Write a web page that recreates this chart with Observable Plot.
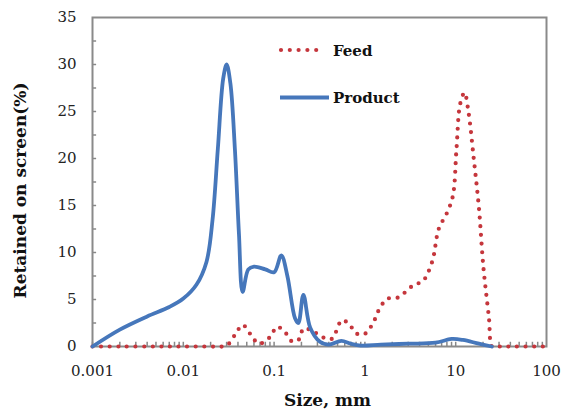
<!DOCTYPE html>
<html>
<head>
<meta charset="utf-8">
<script src="https://cdn.jsdelivr.net/npm/d3@7"></script>
<script src="https://cdn.jsdelivr.net/npm/@observablehq/plot@0.6"></script>
<style>
  html, body { margin: 0; padding: 0; background: #fff; }
  #wrap { position: relative; width: 563px; height: 412px; }
  #legend { position: absolute; left: 0; top: 0; pointer-events: none; }
</style>
</head>
<body>
<div id="wrap"></div>
<script>
// ---- data ----
const feedSize = [0.001, 0.002, 0.005, 0.01, 0.02, 0.027, 0.031, 0.038, 0.045, 0.055, 0.068, 0.09, 0.108, 0.135, 0.16, 0.19, 0.21, 0.26, 0.34, 0.43, 0.56, 0.68, 0.8, 0.98, 1.2, 1.5, 1.8, 2.3, 2.8, 3.5, 4.3, 5.5, 6.5, 8, 9.3, 10.2, 11.2, 12.5, 13.8, 15.8, 18, 20.2, 23.2, 25, 27, 35, 50, 100];
const feedPct  = [0, 0, 0, 0, 0, 0, 0.2, 1.4, 2.3, 1.3, 0.3, 1.0, 2.1, 1.4, 0.5, 0.8, 1.9, 1.7, 1.0, 0.8, 2.8, 2.3, 1.4, 1.3, 2.3, 4.3, 5.1, 5.2, 5.8, 6.6, 6.9, 9.0, 12.5, 14.2, 16, 21, 25.8, 27, 25, 20, 14.8, 8.4, 3.1, 0, 0, 0, 0, 0];

const productSize = [0.001, 0.002, 0.004, 0.007, 0.01, 0.014, 0.018, 0.021, 0.024, 0.0275, 0.030, 0.033, 0.037, 0.041, 0.045, 0.052, 0.06, 0.08, 0.1, 0.12, 0.14, 0.17, 0.185, 0.21, 0.25, 0.32, 0.4, 0.55, 0.7, 0.9, 1.5, 3, 6, 9, 12, 18, 25];
const productPct  = [0, 1.8, 3.2, 4.2, 5.1, 6.6, 9.0, 13.5, 21, 28.5, 30, 28, 21, 12, 5.8, 8.2, 8.5, 8.2, 7.9, 9.7, 7.5, 3.0, 2.5, 5.5, 2.0, 0.5, 0.2, 0.6, 0.3, 0.1, 0.2, 0.3, 0.4, 0.8, 0.7, 0.3, 0];

const xTicks = [0.001, 0.01, 0.1, 1, 10, 100];
const xTickLabels = ["0.001", "0.01", "0.1", "1", "10", "100"];
const yTicks = [0, 5, 10, 15, 20, 25, 30, 35];
const seriesNames = ["Feed", "Product"];
const seriesColors = ["#c5363c", "#4677bb"];

// minor tick positions
const minorX = [];
for (const d of [0.001, 0.01, 0.1, 1, 10]) for (let k = 1; k <= 9; k++) minorX.push(d * k);
const minorY = [];
for (let v = 2.5; v < 35; v += 2.5) minorY.push(v);

const feed = feedSize.map((s, i) => ({size: s, pct: feedPct[i]}));
const product = productSize.map((s, i) => ({size: s, pct: productPct[i]}));

const chart = Plot.plot({
  width: 563,
  height: 412,
  marginLeft: 92,
  marginRight: 17,
  marginTop: 17,
  marginBottom: 66,
  style: {fontFamily: "DejaVu Serif", fontSize: "15px", color: "#222", background: "#fff"},
  x: {type: "log", domain: [0.001, 100]},
  y: {domain: [0, 35]},
  marks: [
    Plot.axisX({ticks: xTicks, tickFormat: (d) => xTickLabels[xTicks.indexOf(d)], tickSize: 0, tickPadding: 19, label: null}),
    Plot.axisY({ticks: yTicks, tickSize: 0, tickPadding: 16, label: null}),
    Plot.ruleX(minorX, {x: (d) => d, y1: 0, y2: 0.45, stroke: "#888", strokeWidth: 1.5}),
    Plot.ruleY(minorY, {y: (d) => d, x1: 0.001, x2: 0.00111, stroke: "#888", strokeWidth: 1.5}),
    Plot.frame({stroke: "#8a8a8a", strokeWidth: 2}),
    Plot.line(feed, {x: "size", y: "pct", curve: "catmull-rom", stroke: seriesColors[0], strokeWidth: 4.2, strokeLinecap: "round", strokeDasharray: "0,8.6"}),
    Plot.line(product, {x: "size", y: "pct", curve: "catmull-rom", stroke: seriesColors[1], strokeWidth: 3.8}),
    Plot.text(["Retained on screen(%)"], {frameAnchor: "left", rotate: -90, dx: -72, dy: 8.5, lineAnchor: "middle", textAnchor: "middle", fontWeight: "bold", fontSize: 17, fill: "#111"}),
    Plot.text(["Size, mm"], {frameAnchor: "bottom", dx: 8, dy: 54, lineAnchor: "middle", textAnchor: "middle", fontWeight: "bold", fontSize: 17, fill: "#111"})
  ]
});

const wrap = document.getElementById("wrap");
wrap.appendChild(chart);

// legend overlay
const ns = "http://www.w3.org/2000/svg";
const lg = document.createElementNS(ns, "svg");
lg.setAttribute("id", "legend");
lg.setAttribute("width", 563);
lg.setAttribute("height", 412);
const items = [
  {name: seriesNames[0], color: seriesColors[0], dash: true, y: 50},
  {name: seriesNames[1], color: seriesColors[1], dash: false, y: 97.5}
];
for (const it of items) {
  const l = document.createElementNS(ns, "line");
  l.setAttribute("x1", it.dash ? 281 : 280);
  l.setAttribute("x2", it.dash ? 325 : 329);
  l.setAttribute("y1", it.y);
  l.setAttribute("y2", it.y);
  l.setAttribute("stroke", it.color);
  if (it.dash) {
    l.setAttribute("stroke-width", 4.2);
    l.setAttribute("stroke-linecap", "round");
    l.setAttribute("stroke-dasharray", "0,8.8");
  } else {
    l.setAttribute("stroke-width", 3.8);
  }
  lg.appendChild(l);
  const t = document.createElementNS(ns, "text");
  t.setAttribute("x", 333);
  t.setAttribute("y", it.y + 5.5);
  t.setAttribute("font-family", "DejaVu Serif");
  t.setAttribute("font-weight", "bold");
  t.setAttribute("font-size", 15);
  t.setAttribute("fill", "#111");
  t.textContent = it.name;
  lg.appendChild(t);
}
wrap.appendChild(lg);
</script>
</body>
</html>
